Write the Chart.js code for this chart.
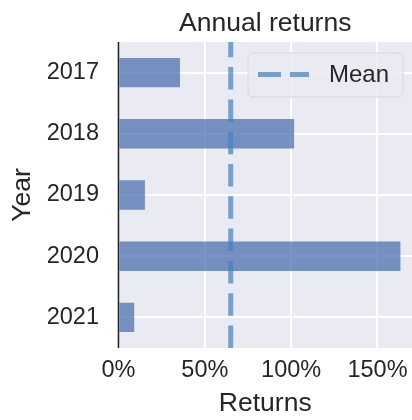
<!DOCTYPE html>
<html><head><meta charset="utf-8">
<script src="https://cdn.jsdelivr.net/npm/chart.js@4.4.0/dist/chart.umd.min.js"></script>
<style>html,body{margin:0;padding:0;background:#fff;overflow:hidden}#wrap{width:412px;height:420px;position:relative}</style>
</head><body><div id="wrap"><canvas id="c"></canvas></div>
<script>
const years = ['2017', '2018', '2019', '2020', '2021'];
const returns = [35.6, 101.7, 15.3, 163.3, 9.1];
const xTicks = [0, 50, 100, 150];
const meanLabel = 'Mean';
const chartTitle = 'Annual returns';
const xTitle = 'Returns';
const yTitle = 'Year';
const meanValue = returns.reduce((a, b) => a + b, 0) / returns.length;

const FONT = "'Liberation Sans', Arial, sans-serif";
const TXT = '#262626';
const MEANCOL = 'rgba(66,128,190,0.7)';

const bgPlugin = {
  id: 'bg',
  beforeDraw(chart) {
    const {ctx, chartArea: a} = chart;
    ctx.save();
    ctx.fillStyle = '#eaeaf2';
    ctx.fillRect(a.left, a.top, a.right - a.left, a.bottom - a.top);
    ctx.restore();
  }
};

const overlayPlugin = {
  id: 'overlay',
  afterDatasetsDraw(chart) {
    const {ctx, chartArea: a, scales} = chart;
    const x0 = scales.x.getPixelForValue(0);
    const xm = scales.x.getPixelForValue(meanValue);
    ctx.save();
    ctx.strokeStyle = '#222';
    ctx.lineWidth = 1.6;
    ctx.beginPath();
    ctx.moveTo(x0, a.top);
    ctx.lineTo(x0, a.bottom);
    ctx.stroke();
    ctx.strokeStyle = MEANCOL;
    ctx.lineWidth = 5;
    ctx.lineCap = 'butt';
    ctx.setLineDash([22.5, 9.8]);
    ctx.beginPath();
    ctx.moveTo(xm, a.bottom);
    ctx.lineTo(xm, a.top);
    ctx.stroke();
    ctx.setLineDash([]);
    const w = 155, h = 44;
    const lx = a.right - 9 - w, ly = a.top + 11;
    ctx.beginPath();
    ctx.roundRect(lx, ly, w, h, 5);
    ctx.fillStyle = 'rgba(234,234,242,0.85)';
    ctx.fill();
    ctx.strokeStyle = '#d6d6de';
    ctx.lineWidth = 1;
    ctx.stroke();
    const cy = ly + h / 2 - 0.5;
    ctx.strokeStyle = MEANCOL;
    ctx.lineWidth = 5;
    ctx.setLineDash([23, 9]);
    ctx.beginPath();
    ctx.moveTo(lx + 10, cy);
    ctx.lineTo(lx + 61, cy);
    ctx.stroke();
    ctx.setLineDash([]);
    ctx.fillStyle = TXT;
    ctx.font = '24px ' + FONT;
    ctx.textBaseline = 'middle';
    ctx.textAlign = 'left';
    ctx.fillText(meanLabel, lx + 81, cy + 1);
    ctx.restore();
  }
};

new Chart(document.getElementById('c'), {
  type: 'bar',
  data: {
    labels: years,
    datasets: [{
      label: xTitle,
      data: returns,
      backgroundColor: 'rgba(76,114,176,0.75)',
      borderWidth: 0,
      barPercentage: 0.48,
      categoryPercentage: 1
    }]
  },
  options: {
    indexAxis: 'y',
    responsive: true,
    maintainAspectRatio: false,
    animation: false,
    devicePixelRatio: 1,
    layout: {padding: 0},
    plugins: {
      legend: {display: false},
      tooltip: {enabled: false},
      title: {
        display: true,
        text: chartTitle,
        fullSize: false,
        color: TXT,
        font: {family: FONT, size: 26.5, weight: 'normal', lineHeight: 1.2},
        padding: {top: 8, bottom: 2.2}
      }
    },
    scales: {
      x: {
        type: 'linear',
        min: 0,
        max: 170,
        afterBuildTicks(s) { s.ticks = xTicks.map(v => ({value: v})); },
        afterFit(s) { s.height = 72; s.paddingLeft = 0; s.paddingRight = 0; },
        grid: {color: '#ffffff', lineWidth: 2, drawTicks: false},
        border: {display: false},
        ticks: {
          color: TXT,
          font: {family: FONT, size: 23.5},
          padding: 8,
          callback: v => v + '%'
        },
        title: {
          display: true,
          text: xTitle,
          color: TXT,
          font: {family: FONT, size: 26.5},
          padding: {top: 0, bottom: 0}
        }
      },
      y: {
        type: 'category',
        offset: true,
        afterFit(s) { s.width = 118.5; s.paddingTop = 0; s.paddingBottom = 0; },
        grid: {color: '#ffffff', lineWidth: 2, offset: false, drawTicks: false},
        border: {display: false},
        ticks: {
          color: TXT,
          font: {family: FONT, size: 23.5},
          padding: 19.5
        },
        title: {
          display: true,
          text: yTitle,
          color: TXT,
          font: {family: FONT, size: 26.5},
          padding: {top: 6.9, bottom: 0}
        }
      }
    }
  },
  plugins: [bgPlugin, overlayPlugin]
});
</script>
</body></html>
